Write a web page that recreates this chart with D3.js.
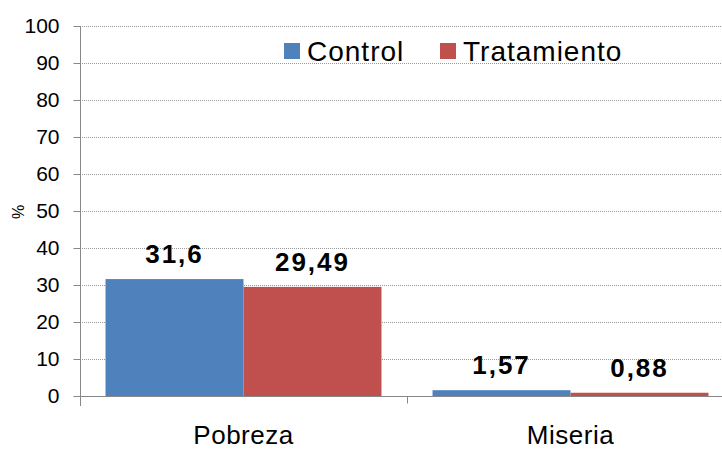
<!DOCTYPE html>
<html>
<head>
<meta charset="utf-8">
<script src="https://cdn.jsdelivr.net/npm/d3@7"></script>
<style>
body { margin: 0; background: #fff; }
text { font-family: "Liberation Sans", Arial, sans-serif; fill: #000; }
</style>
</head>
<body>
<div id="chart"></div>
<script>
var categories = ["Pobreza", "Miseria"];
var seriesNames = ["Control", "Tratamiento"];
var control = [31.6, 1.57];
var tratamiento = [29.49, 0.88];
var valueLabels = [["31,6", "1,57"], ["29,49", "0,88"]];
var yTicks = [0, 10, 20, 30, 40, 50, 60, 70, 80, 90, 100];
var colors = ["#4f81bd", "#c0504d"];

var width = 722, height = 450;
var plotLeft = 80, plotRight = 734, plotTop = 26, plotBottom = 396;

var svg = d3.select("#chart").append("svg")
  .attr("width", width).attr("height", height);

var x = d3.scaleBand().domain(categories).range([plotLeft, plotRight]).paddingInner(0).paddingOuter(0);
var x1 = d3.scaleBand().domain(seriesNames).range([0, x.bandwidth()]).paddingInner(0).paddingOuter(0.185);
var y = d3.scaleLinear().domain([0, 100]).range([plotBottom, plotTop]);

// gridlines
svg.append("g").selectAll("line").data(yTicks.filter(function(d) { return d > 0; }))
  .enter().append("line")
  .attr("x1", plotLeft + 2).attr("x2", width)
  .attr("y1", function(d) { return y(d) + 0.5; })
  .attr("y2", function(d) { return y(d) + 0.5; })
  .attr("stroke", "#999").attr("stroke-width", 1)
  .attr("stroke-dasharray", "1,1");

// bars
var data = [control, tratamiento];
var groups = svg.append("g").selectAll("g").data(seriesNames).enter().append("g");
groups.each(function(s, si) {
  var g = d3.select(this);
  g.selectAll("rect").data(categories).enter().append("rect")
    .attr("x", function(c) { return x(c) + x1(s); })
    .attr("width", x1.bandwidth())
    .attr("y", function(c, i) { return y(data[si][i]); })
    .attr("height", function(c, i) { return plotBottom - y(data[si][i]); })
    .attr("fill", colors[si]);
  g.selectAll("text").data(categories).enter().append("text")
    .attr("x", function(c) { return x(c) + x1(s) + x1.bandwidth() / 2; })
    .attr("y", function(c, i) { return y(data[si][i]) - 16; })
    .attr("text-anchor", "middle")
    .style("font-size", "26px").style("font-weight", "bold").style("letter-spacing", "2px")
    .text(function(c, i) { return valueLabels[si][i]; });
});

// y axis
var yAxis = svg.append("g").attr("transform", "translate(" + (plotLeft + 0.5) + ",0)")
  .call(d3.axisLeft(y).tickValues(yTicks).tickSize(7).tickPadding(14));
yAxis.select(".domain").attr("stroke", "#888").attr("d", "M0," + plotTop + "V" + (plotBottom + 10));
yAxis.selectAll(".tick line").attr("stroke", "#888");
yAxis.selectAll(".tick text").style("font-size", "21px").attr("font-family", null);

// x axis
var xAxis = svg.append("g").attr("transform", "translate(0," + (plotBottom + 0.5) + ")");
xAxis.append("line").attr("x1", plotLeft).attr("x2", width).attr("stroke", "#888");
xAxis.selectAll("line.tk").data(categories.slice(1)).enter().append("line")
  .attr("class", "tk")
  .attr("x1", function(c) { return x(c) + 0.5; }).attr("x2", function(c) { return x(c) + 0.5; })
  .attr("y1", 0).attr("y2", 7).attr("stroke", "#888");
xAxis.selectAll("text").data(categories).enter().append("text")
  .attr("x", function(c) { return x(c) + x.bandwidth() / 2; })
  .attr("y", 47)
  .attr("text-anchor", "middle")
  .style("font-size", "26px").style("letter-spacing", "0.5px")
  .text(function(c) { return c; });

// y label
svg.append("text").attr("transform", "translate(24,212) rotate(-90)")
  .attr("text-anchor", "middle").style("font-size", "16px").text("%");

// legend
var legendX = [284, 440];
var legend = svg.append("g").selectAll("g").data(seriesNames).enter().append("g")
  .attr("transform", function(d, i) { return "translate(" + legendX[i] + ",43)"; });
legend.append("rect").attr("width", 16).attr("height", 16).attr("fill", function(d, i) { return colors[i]; });
legend.append("text").attr("x", 23).attr("y", 18).style("font-size", "28px").style("letter-spacing", "1px")
  .text(function(d) { return d; });
</script>
</body>
</html>
